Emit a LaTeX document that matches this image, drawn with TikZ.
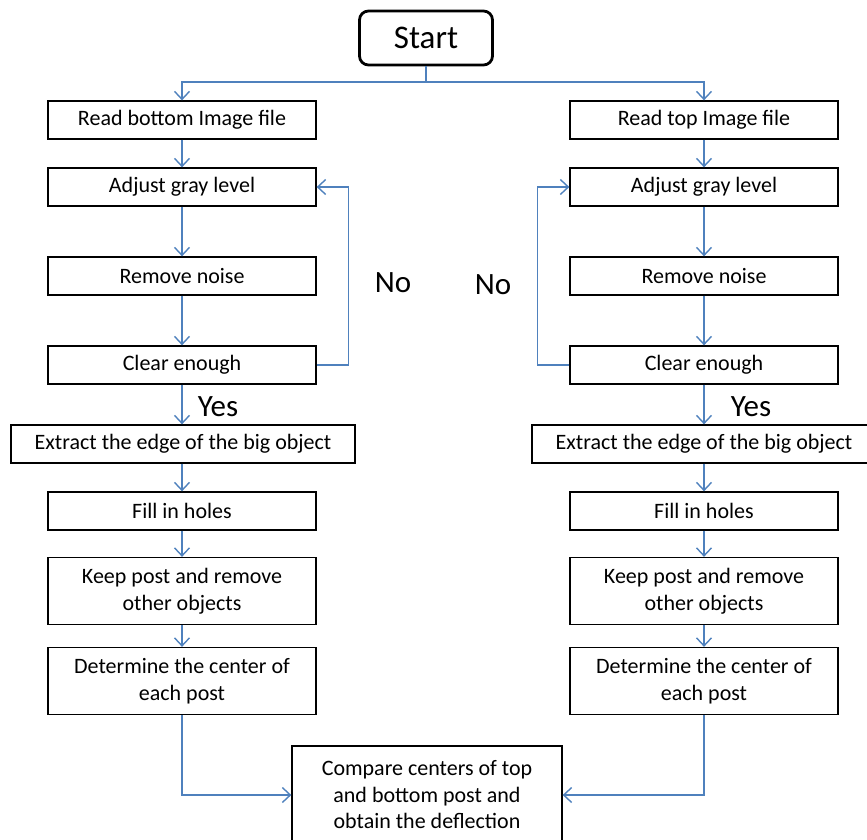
\documentclass[tikz,border=0pt]{standalone}
\usepackage{fontspec}
\setmainfont{Carlito}
\usetikzlibrary{arrows.meta}
\definecolor{lineblue}{RGB}{79,129,189}
\begin{document}
\begin{tikzpicture}[x=1pt, y=-1pt,
  box/.style={draw, line width=1.3pt, minimum width=268pt, minimum height=38pt,
    inner sep=2pt, align=center, font=\fontsize{22}{26.5}\selectfont},
  tall/.style={box, minimum height=67pt},
  wide/.style={box, minimum width=344pt},
  startbox/.style={draw, line width=2.8pt, rounded corners=9pt, minimum width=133pt,
    minimum height=54pt, font=\fontsize{33}{33}\selectfont},
  lbl/.style={font=\fontsize{31}{31}\selectfont},
  ln/.style={line width=1.4pt, lineblue},
  arr/.style={ln, -{Straight Barb[length=8pt, width=15pt, line width=1.4pt]}}
]
\useasboundingbox (0,0) rectangle (867,839);
\node[startbox] (start) at (426,38) {Start};
\coordinate (split) at (426,82);
% left branch: bottom image
\node[box] (readL) at (182,120) {Read bottom Image file};
\node[box] (adjL) at (182,187) {Adjust gray level};
\node[box] (noiseL) at (182,276) {Remove noise};
\node[box] (clearL) at (182,365) {Clear enough};
\node[wide] (edgeL) at (183,444) {Extract the edge of the big object};
\node[box] (fillL) at (182,511) {Fill in holes};
\node[tall] (keepL) at (182,591) {Keep post and remove\\other objects};
\node[tall] (detL) at (182,681) {Determine the center of\\each post};
% right branch: top image
\node[box] (readR) at (704,120) {Read top Image file};
\node[box] (adjR) at (704,187) {Adjust gray level};
\node[box] (noiseR) at (704,276) {Remove noise};
\node[box] (clearR) at (704,365) {Clear enough};
\node[wide] (edgeR) at (704,444) {Extract the edge of the big object};
\node[box] (fillR) at (704,511) {Fill in holes};
\node[tall] (keepR) at (704,591) {Keep post and remove\\other objects};
\node[tall] (detR) at (704,681) {Determine the center of\\each post};
\node[box, minimum width=270pt, minimum height=98pt] (cmp) at (427,795)
  {Compare centers of top\\and bottom post and\\obtain the deflection};
% labels
\node[lbl] (noL) at (393,283) {No};
\node[lbl] (noR) at (493,285) {No};
\node[lbl] (yesL) at (218,407) {Yes};
\node[lbl] (yesR) at (751,407) {Yes};
% connectors
\draw[ln] (start) -- (split);
\draw[arr] (split) -| (readL);
\draw[arr] (split) -| (readR);
\draw[arr] (readL) -- (adjL);
\draw[arr] (adjL) -- (noiseL);
\draw[arr] (noiseL) -- (clearL);
\draw[arr] (clearL) -- (edgeL.north -| clearL.south);
\draw[arr] (edgeL.south -| fillL.north) -- (fillL);
\draw[arr] (fillL) -- (keepL);
\draw[arr] (keepL) -- (detL);
\draw[arr] (readR) -- (adjR);
\draw[arr] (adjR) -- (noiseR);
\draw[arr] (noiseR) -- (clearR);
\draw[arr] (clearR) -- (edgeR.north -| clearR.south);
\draw[arr] (edgeR.south -| fillR.north) -- (fillR);
\draw[arr] (fillR) -- (keepR);
\draw[arr] (keepR) -- (detR);
\draw[arr] (clearL.east) -- ++(32,0) |- (adjL.east);
\draw[arr] (clearR.west) -- ++(-32,0) |- (adjR.west);
\draw[arr] (detL.south) |- (cmp.west);
\draw[arr] (detR.south) |- (cmp.east);
\end{tikzpicture}
\end{document}
